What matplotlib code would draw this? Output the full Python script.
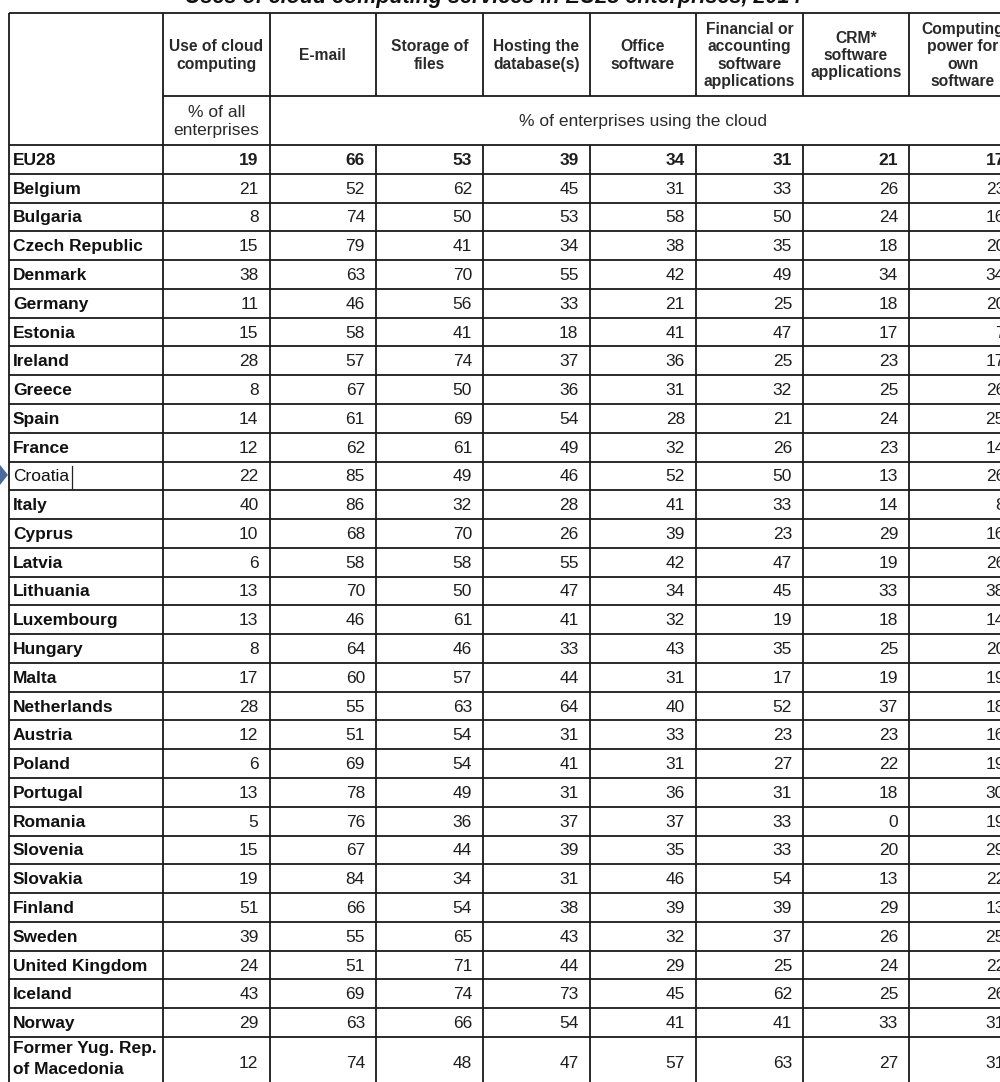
import matplotlib
matplotlib.use("Agg")
import matplotlib.pyplot as plt
from matplotlib.patches import Polygon

plt.rcParams['font.family'] = ['Liberation Sans', 'DejaVu Sans']

title = "Uses of cloud computing services in EU28 enterprises, 2014"
columns = ["Use of cloud\ncomputing", "E-mail", "Storage of\nfiles", "Hosting the\ndatabase(s)",
           "Office\nsoftware", "Financial or\naccounting\nsoftware\napplications",
           "CRM*\nsoftware\napplications", "Computing\npower for\nown\nsoftware"]
unit_first = "% of all\nenterprises"
unit_rest = "% of enterprises using the cloud"

countries = ["EU28", "Belgium", "Bulgaria", "Czech Republic", "Denmark", "Germany", "Estonia",
             "Ireland", "Greece", "Spain", "France", "Croatia", "Italy", "Cyprus", "Latvia",
             "Lithuania", "Luxembourg", "Hungary", "Malta", "Netherlands", "Austria", "Poland",
             "Portugal", "Romania", "Slovenia", "Slovakia", "Finland", "Sweden", "United Kingdom",
             "Iceland", "Norway", "Former Yug. Rep.\nof Macedonia"]

use_cloud = [19, 21, 8, 15, 38, 11, 15, 28, 8, 14, 12, 22, 40, 10, 6, 13, 13, 8, 17, 28, 12, 6, 13, 5, 15, 19, 51, 39, 24, 43, 29, 12]
email     = [66, 52, 74, 79, 63, 46, 58, 57, 67, 61, 62, 85, 86, 68, 58, 70, 46, 64, 60, 55, 51, 69, 78, 76, 67, 84, 66, 55, 51, 69, 63, 74]
storage   = [53, 62, 50, 41, 70, 56, 41, 74, 50, 69, 61, 49, 32, 70, 58, 50, 61, 46, 57, 63, 54, 54, 49, 36, 44, 34, 54, 65, 71, 74, 66, 48]
hosting   = [39, 45, 53, 34, 55, 33, 18, 37, 36, 54, 49, 46, 28, 26, 55, 47, 41, 33, 44, 64, 31, 41, 31, 37, 39, 31, 38, 43, 44, 73, 54, 47]
office    = [34, 31, 58, 38, 42, 21, 41, 36, 31, 28, 32, 52, 41, 39, 42, 34, 32, 43, 31, 40, 33, 31, 36, 37, 35, 46, 39, 32, 29, 45, 41, 57]
financial = [31, 33, 50, 35, 49, 25, 47, 25, 32, 21, 26, 50, 33, 23, 47, 45, 19, 35, 17, 52, 23, 27, 31, 33, 33, 54, 39, 37, 25, 62, 41, 63]
crm       = [21, 26, 24, 18, 34, 18, 17, 23, 25, 24, 23, 13, 14, 29, 19, 33, 18, 25, 19, 37, 23, 22, 18, 0, 20, 13, 29, 26, 24, 25, 33, 27]
computing = [17, 23, 16, 20, 34, 20, 7, 17, 26, 25, 14, 26, 8, 16, 26, 38, 14, 20, 19, 18, 16, 19, 30, 19, 29, 22, 13, 25, 22, 26, 31, 31]

series = [use_cloud, email, storage, hosting, office, financial, crm, computing]

# ---- layout (pixels) ----
W, H = 1000, 1082
left = 9
col_edges = [163, 269.5, 376, 483, 589.5, 696, 803, 909, 1016]
top = 13
head1 = 96
head2 = 145
row_h = (1037 - 145) / 31.0
last_row_h = 50
line_kw = dict(color="#1a1a1a", lw=1.3, solid_capstyle="butt")
txt_color = "#1e1e1e"
body_fs = 12.5

fig = plt.figure(figsize=(W / 100, H / 100), dpi=100)
ax = fig.add_axes([0, 0, 1, 1])
ax.set_xlim(0, W)
ax.set_ylim(H, 0)
ax.axis("off")

# title (partly cut off at top)
ax.text(493, 3, title, ha="center", va="baseline", fontsize=15.5, fontweight="bold",
        style="italic", color="#111111")

row_tops = [head2 + i * row_h for i in range(len(countries))]

# horizontal lines
ax.plot([left, W + 20], [top, top], **line_kw)
ax.plot([col_edges[0], W + 20], [head1, head1], **line_kw)
for y in row_tops:
    ax.plot([left, W + 20], [y, y], **line_kw)

# vertical lines
ax.plot([left, left], [top, H + 10], **line_kw)
ax.plot([col_edges[0], col_edges[0]], [top, H + 10], **line_kw)
ax.plot([col_edges[1], col_edges[1]], [top, H + 10], **line_kw)
for x in col_edges[2:]:
    ax.plot([x, x], [top, head1], **line_kw)
    ax.plot([x, x], [head2, H + 10], **line_kw)

# column headers
for i, name in enumerate(columns):
    x0, x1 = col_edges[i], col_edges[i + 1]
    ax.text((x0 + x1) / 2, (top + head1) / 2 + 1, name, ha="center", va="center",
            fontsize=11.25, fontweight="bold", color="#2a2a2a", linespacing=1.2)

# unit row
ax.text((col_edges[0] + col_edges[1]) / 2, (head1 + head2) / 2 + 1, unit_first,
        ha="center", va="center", fontsize=12.5, color="#2a2a2a", linespacing=1.22)
ax.text((col_edges[1] + col_edges[-1]) / 2, (head1 + head2) / 2 + 1, unit_rest,
        ha="center", va="center", fontsize=12.5, color="#2a2a2a")

# body
croatia_txt = None
for r, cname in enumerate(countries):
    yt = row_tops[r]
    last = (r == len(countries) - 1)
    hgt = last_row_h if last else row_h
    yc = yt + hgt / 2 + 1
    t = ax.text(left + 4, yc - (4 if last else 0), cname, ha="left", va="center",
                fontsize=body_fs, fontweight="bold", color="#111111", linespacing=1.45)
    if cname == "Croatia":
        croatia_txt = t
        t.set_fontweight("normal")
    bold = (cname == "EU28")
    for c, s in enumerate(series):
        xr = col_edges[c + 1] - 11
        ax.text(xr, yc, str(s[r]), ha="right", va="center", fontsize=body_fs,
                fontweight="bold" if bold else "normal", color=txt_color)

# blue pointer and text cursor next to Croatia
ci = countries.index("Croatia")
yc = row_tops[ci] + row_h / 2
ax.add_patch(Polygon([[0, yc - 11], [8, yc - 1], [0, yc + 9]], closed=True,
                     facecolor="#4a6a9c", edgecolor="none"))
fig.canvas.draw()
bb = croatia_txt.get_window_extent()
inv = ax.transData.inverted()
(xa, _), = inv.transform([[bb.x1, bb.y0]])
ax.plot([xa + 2.5, xa + 2.5], [yc - 10, yc + 12], color="#222222", lw=0.9)

fig.savefig("out.png", dpi=100)
